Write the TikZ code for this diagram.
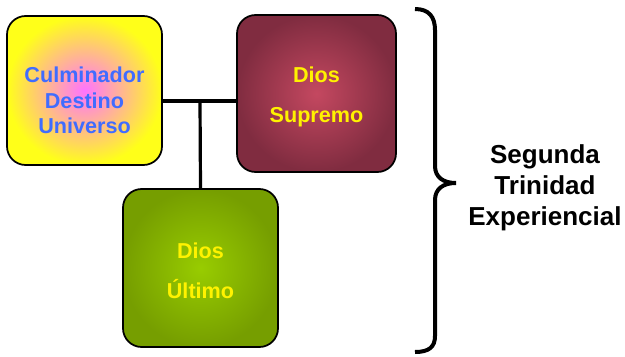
\documentclass[tikz,border=0pt]{standalone}
\usepackage{fontspec}
\setmainfont{Liberation Sans}
\usepackage{tikz}

\definecolor{boxblue}{RGB}{64,108,255}
\definecolor{supouter}{RGB}{128,44,64}
\definecolor{supinner}{RGB}{196,72,96}
\definecolor{ultouter}{RGB}{118,158,0}
\definecolor{ultinner}{RGB}{152,204,0}

\tikzset{
  caja/.style={draw=black, line width=1.3pt, rounded corners=14pt, inner sep=0pt},
  letra/.style={font=\bfseries\fontsize{16.2}{19}\selectfont, align=center},
  enlace/.style={line width=2.4pt}
}

\begin{document}
\begin{tikzpicture}[x=0.75pt,y=0.75pt,yscale=-1,xscale=1]
\useasboundingbox (0,0) rectangle (625,357);

% Boxes
\node (culm) at (84.5,90.5) [caja, minimum width=116.25pt, minimum height=111.75pt, inner color=magenta!55, outer color=yellow!90!white] {};
\node (supr) at (316.5,93.5) [caja, minimum width=119.25pt, minimum height=117.75pt, inner color=supinner, outer color=supouter] {};
\node (ult) at (200.5,268) [caja, minimum width=116.25pt, minimum height=118.5pt, inner color=ultinner, outer color=ultouter] {};

% Text Node
\node (culmtxt) at (culm) [letra, text=boxblue, yshift=-7.5pt] {Culminador\\Destino\\Universo};
% Text Node
\node (suprtxt) at (supr) [letra, text=yellow, yshift=-2.5pt] {Dios\\[11pt]Supremo};
% Text Node
\node (ulttxt) at (ult) [letra, text=yellow, yshift=-2pt] {Dios\\[11pt]Último};

%Straight Lines
\coordinate (union) at (200,101);
\draw [enlace] (culm.east |- union) -- (supr.west |- union);
\draw [enlace] (union) -- (ult.north);

% Brace
\draw [line width=3pt] (415,9) .. controls (429,9) and (435,17) .. (435,30) -- (435,166)
  .. controls (435,177) and (443,183) .. (456,183) .. controls (443,183) and (435,189) .. (435,200)
  -- (435,336) .. controls (435,347) and (429,352) .. (415,352);

% Text Node
\node (trinidad) at (545,188) [font=\bfseries\fontsize{19.5}{23.3}\selectfont, align=center] {Segunda\\Trinidad\\Experiencial};

\end{tikzpicture}
\end{document}
